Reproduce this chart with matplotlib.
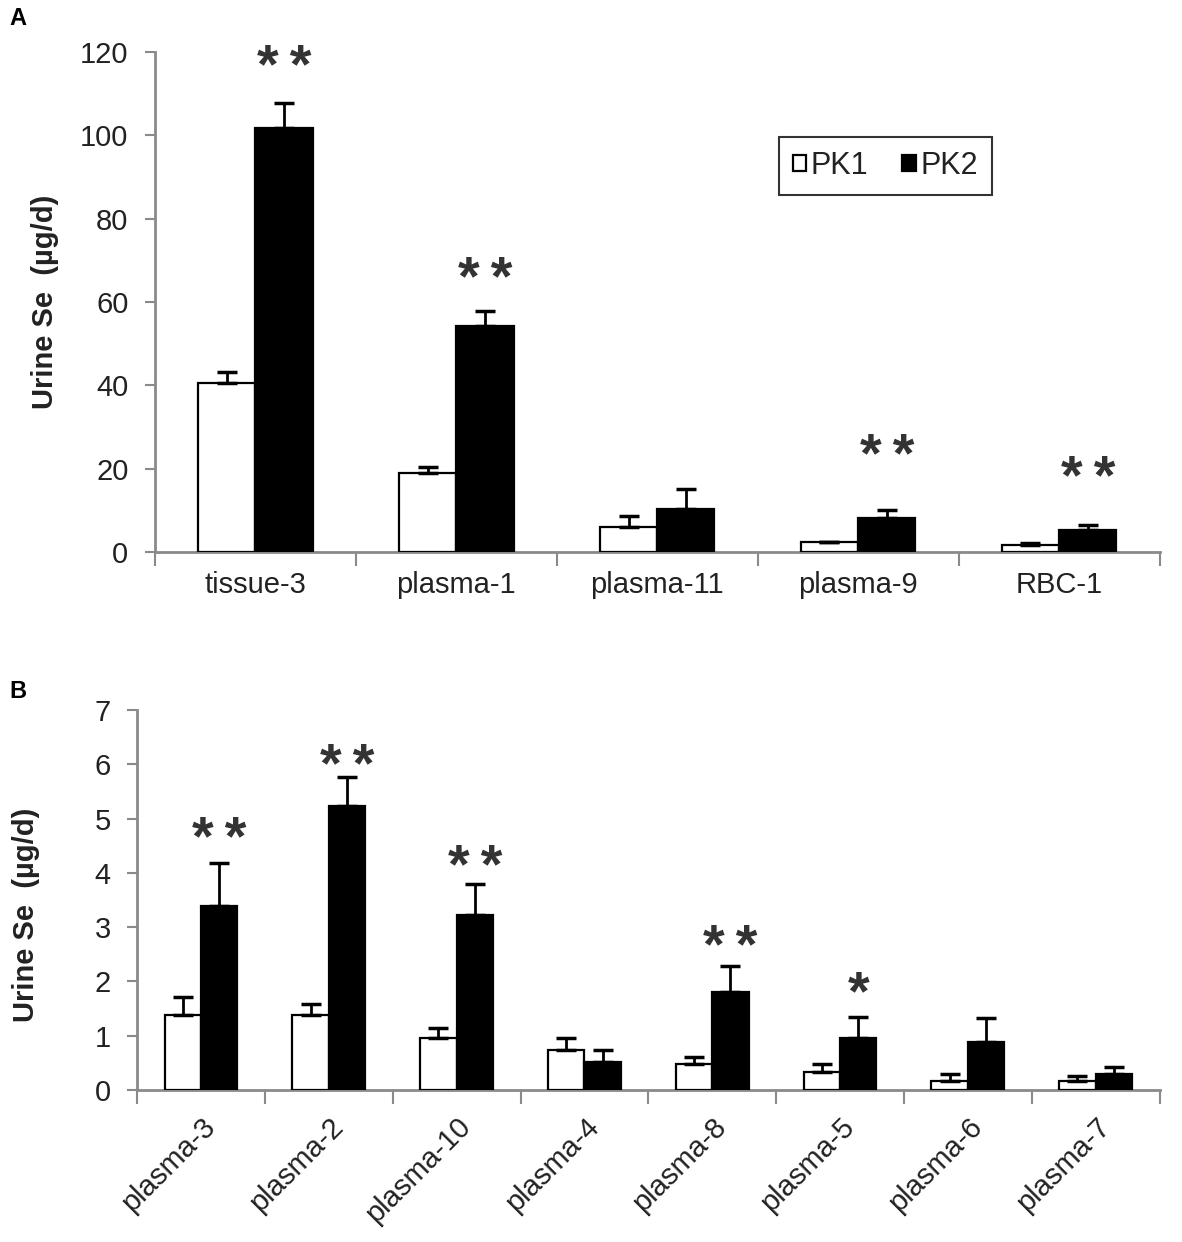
import numpy as np
import matplotlib
matplotlib.use("Agg")
import matplotlib.pyplot as plt
import matplotlib.transforms as mtransforms

plt.rcParams['font.family'] = ['Liberation Sans', 'DejaVu Sans']

# panel A
cats_a = ['tissue-3', 'plasma-1', 'plasma-11', 'plasma-9', 'RBC-1']
pk1_a = [40.5, 18.9, 5.9, 2.3, 1.7]
pk1_err_a = [2.6, 1.6, 2.7, 0.2, 0.5]
pk2_a = [101.8, 54.3, 10.4, 8.2, 5.2]
pk2_err_a = [6.0, 3.6, 4.8, 1.8, 1.2]
stars_a = ['**', '**', '', '**', '**']
star_y_a = [119, 68, 0, 25.7, 20.2]

# panel B
cats_b = ['plasma-3', 'plasma-2', 'plasma-10', 'plasma-4',
          'plasma-8', 'plasma-5', 'plasma-6', 'plasma-7']
pk1_b = [1.39, 1.39, 0.95, 0.74, 0.47, 0.34, 0.17, 0.17]
pk1_err_b = [0.33, 0.19, 0.19, 0.21, 0.14, 0.13, 0.13, 0.09]
pk2_b = [3.39, 5.24, 3.22, 0.51, 1.80, 0.95, 0.88, 0.30]
pk2_err_b = [0.80, 0.53, 0.57, 0.23, 0.49, 0.40, 0.44, 0.13]
stars_b = ['**', '**', '**', '', '**', '*', '', '']
star_y_b = [4.82, 6.17, 4.31, 0, 2.83, 1.98, 0, 0]

GREY = '#8a8a8a'
TXT = '#222222'
W = 0.285
STAR_FS = 40


def draw_panel(fig, ax, cats, pk1, e1, pk2, e2, stars, star_y, ymax, ystep,
               rot, label_y):
    n = len(cats)
    x = np.arange(n)
    ek = dict(ecolor='black', elinewidth=2, capsize=7, capthick=2.5)
    ax.bar(x - W / 2, pk1, W, color='white', edgecolor='black', linewidth=1.6,
           yerr=[np.zeros(n), e1], error_kw=ek, label='PK1', zorder=3)
    ax.bar(x + W / 2, pk2, W, color='black', edgecolor='black', linewidth=1.6,
           yerr=[np.zeros(n), e2], error_kw=ek, label='PK2', zorder=3)
    # shift so the glyph centre (not the baseline) sits on star_y
    trans = mtransforms.offset_copy(ax.transData, fig=fig,
                                    y=-0.48 * STAR_FS, units='points')
    for i in range(n):
        if stars[i]:
            ax.text(x[i] + W / 2, star_y[i], '\u2009'.join(stars[i]),
                    ha='center', va='baseline', fontsize=STAR_FS,
                    fontweight='bold', color='#333333', transform=trans)
    ax.set_xlim(-0.5, n - 0.5)
    ax.set_ylim(0, ymax)
    ax.set_yticks(np.arange(0, ymax + ystep / 2, ystep))
    ax.set_xticks(np.arange(n + 1) - 0.5)
    ax.set_xticklabels([])
    ax.set_xticks(x, minor=True)
    if rot:
        ax.set_xticklabels(cats, minor=True, rotation=45, ha='right',
                           rotation_mode='anchor', fontsize=21, color=TXT)
        ax.tick_params(axis='x', which='minor', length=0, pad=16)
    else:
        ax.set_xticklabels(cats, minor=True, fontsize=21, color=TXT)
        ax.tick_params(axis='x', which='minor', length=0, pad=14)
    ax.tick_params(axis='x', which='major', length=10, width=1.5, color=GREY)
    ax.tick_params(axis='y', length=7, width=1.5, color=GREY, labelsize=21,
                   labelcolor=TXT, pad=12)
    for s in ['top', 'right']:
        ax.spines[s].set_visible(False)
    for s in ['left', 'bottom']:
        ax.spines[s].set_color(GREY)
        ax.spines[s].set_linewidth(2)
    ax.set_ylabel('Urine Se  (\u00b5g/d)', fontsize=21, fontweight='bold',
                  color=TXT)
    ax.yaxis.set_label_coords(-0.095, label_y)


fig = plt.figure(figsize=(11.82, 12.42), dpi=100)
ax1 = fig.add_axes([0.131, 0.5556, 0.850, 0.4026])
ax2 = fig.add_axes([0.116, 0.1224, 0.865, 0.3059])

draw_panel(fig, ax1, cats_a, pk1_a, pk1_err_a, pk2_a, pk2_err_a, stars_a,
           star_y_a, 120, 20, False, 0.5)
draw_panel(fig, ax2, cats_b, pk1_b, pk1_err_b, pk2_b, pk2_err_b, stars_b,
           star_y_b, 7, 1, True, 0.46)

leg = ax1.legend(loc='center', bbox_to_anchor=(0.727, 0.772), ncol=2,
                 fontsize=22, frameon=True, fancybox=False, handlelength=0.45,
                 handleheight=0.45, handletextpad=0.15, columnspacing=1.1,
                 borderpad=0.45)
leg.get_frame().set_edgecolor('black')
leg.get_frame().set_linewidth(1.5)
for t in leg.get_texts():
    t.set_color(TXT)

fig.text(0.008, 0.985, 'A', fontsize=17, fontweight='bold', va='center')
fig.text(0.008, 0.443, 'B', fontsize=17, fontweight='bold', va='center')

fig.savefig('out.png', dpi=100)
